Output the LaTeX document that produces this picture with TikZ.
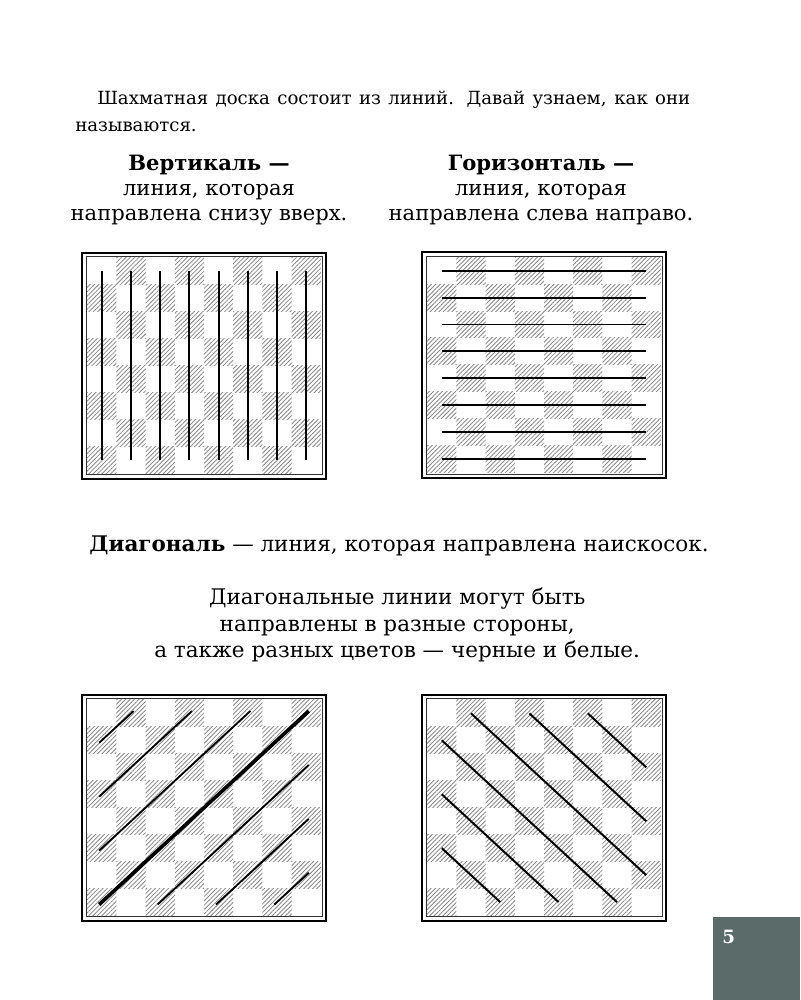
\documentclass[tikz,border=0pt]{standalone}
\usepackage{fontspec}
\setmainfont{DejaVu Serif}
\usetikzlibrary{patterns.meta}
\definecolor{pagegray}{HTML}{5B6B6A}
\definecolor{hatchgray}{HTML}{8A8A8A}
\tikzset{
  txt/.style={font=\fontsize{15}{17.8}\selectfont, inner sep=0pt, align=center},
  frameout/.style={line width=1.7pt},
  framein/.style={line width=0.6pt, draw=black!80},
  darksq/.style={pattern={Lines[angle=45,distance=2.2pt,line width=0.6pt]},
    pattern color=hatchgray},
  sq/.style={shift={(0.13cm,0.13cm)}, x=0.73cm, y=0.674cm},
  bline/.style={line width=1.4pt},
  dline/.style={line width=1.3pt, shorten <=-2.5pt, shorten >=-2.5pt},
  mainline/.style={line width=2.6pt, shorten <=-2.5pt, shorten >=-2.5pt}
}
% frame and shaded squares of one board, lower left at the scope origin
\newcommand\boardbase{%
  \draw[frameout] (0,0) rectangle (6.1,5.65);
  \draw[framein] (0.1,0.1) rectangle (6.0,5.55);
  \begin{scope}[sq]
    \foreach \f in {1,...,8}
      \foreach \r in {1,...,8} {
        \pgfmathtruncatemacro\sqodd{mod(\f+\r,2)}
        \ifnum\sqodd=0 \fill[darksq] (\f-1,\r-1) rectangle (\f,\r); \fi
      }
  \end{scope}}

\begin{document}
\begin{tikzpicture}
  \fill[white] (0,0) rectangle (20,25);
  \useasboundingbox (0,0) rectangle (20,25);

  \node[txt, anchor=north west, text width=15.375cm, align=justify,
    font=\fontsize{12.9}{19.2}\selectfont] (intro) at (1.875,22.72)
    {\hspace*{0.55cm}Шахматная доска состоит из линий. Давай узнаем, как они\linebreak
     называются.};

  \node[txt, anchor=north] (vert) at (5.225,21.12)
    {\textbf{Вертикаль —}\\линия, которая\\направлена снизу вверх.};
  \node[txt, anchor=north] (horiz) at (13.525,21.12)
    {\textbf{Горизонталь —}\\линия, которая\\направлена слева направо.};

  % vertical lines
  \begin{scope}[shift={(2.05cm,13.03cm)}]
    \boardbase
    \begin{scope}[sq]
      \foreach \f in {1,...,8}
        \draw[bline] (\f-.5,.5) -- (\f-.5,7.5);
    \end{scope}
  \end{scope}

  % horizontal lines
  \begin{scope}[shift={(10.55cm,13.05cm)}]
    \boardbase
    \begin{scope}[sq]
      \foreach \r in {1,...,8}
        \draw[bline] (.5,\r-.5) -- (7.5,\r-.5);
    \end{scope}
  \end{scope}

  \node[txt, anchor=north, font=\fontsize{15.3}{18.8}\selectfont] (diag) at (9.975,11.62)
    {\textbf{Диагональ} — линия, которая направлена наискосок.};
  \node[txt, anchor=north, font=\fontsize{15.3}{18.8}\selectfont] (diagnote) at (9.93,10.3)
    {Диагональные линии могут быть\\направлены в разные стороны,\\
     а также разных цветов — черные и белые.};

  % diagonals to the upper right
  \begin{scope}[shift={(2.05cm,1.98cm)}]
    \boardbase
    \begin{scope}[sq]
      \foreach \fa/\ra/\fb/\rb in {.5/6.5/1.5/7.5, .5/4.5/3.5/7.5, .5/2.5/5.5/7.5,
                                   2.5/.5/7.5/5.5, 4.5/.5/7.5/3.5, 6.5/.5/7.5/1.5}
        \draw[dline] (\fa,\ra) -- (\fb,\rb);
      \draw[mainline] (.5,.5) -- (7.5,7.5);
    \end{scope}
  \end{scope}

  % diagonals to the lower right
  \begin{scope}[shift={(10.55cm,1.98cm)}]
    \boardbase
    \begin{scope}[sq]
      \foreach \fa/\ra/\fb/\rb in {1.5/7.5/7.5/1.5, 3.5/7.5/7.5/3.5, 5.5/7.5/7.5/5.5,
                                   .5/6.5/6.5/.5, .5/4.5/4.5/.5, .5/2.5/2.5/.5}
        \draw[bline] (\fa,\ra) -- (\fb,\rb);
    \end{scope}
  \end{scope}

  \fill[pagegray] (17.825,0) rectangle (20,2.075);
  \node[anchor=north west, inner sep=0pt, text=white,
    font=\fontsize{13}{15}\selectfont\bfseries] (pagenum) at (18.05,1.75) {5};
\end{tikzpicture}
\end{document}
